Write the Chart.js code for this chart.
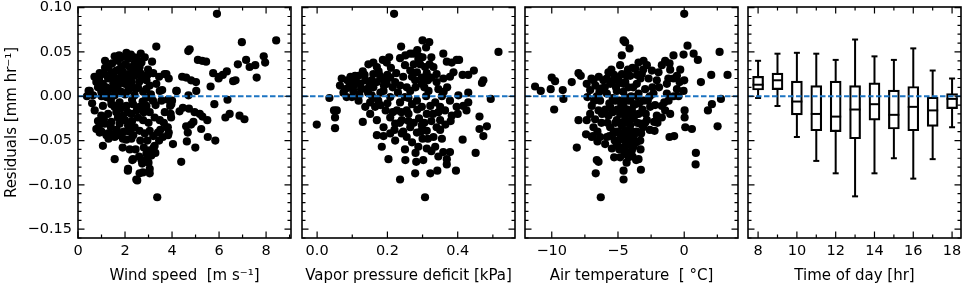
<!DOCTYPE html>
<html>
<head>
<meta charset="utf-8">
<script src="https://cdn.jsdelivr.net/npm/chart.js@4.4.0/dist/chart.umd.min.js"></script>
<style>
  body { margin: 0; background: #fff; }
  #wrap { position: relative; width: 964px; height: 286px; }
  canvas { position: absolute; left: 0; top: 0; }
</style>
</head>
<body>
<div id="wrap">
  <canvas id="c1" width="964" height="286"></canvas>
  <canvas id="c2" width="964" height="286"></canvas>
  <canvas id="c3" width="964" height="286"></canvas>
  <canvas id="c4" width="964" height="286"></canvas>
</div>
<script>
// residuals vs wind speed [m s-1]
const windPoints = [
  [5.91,0.093],[8.43,0.063],[6.97,0.061],[3.33,0.056],[4.75,0.053],[4.69,0.051],[5.10,0.041],[5.28,0.040],
  [5.45,0.039],[7.15,0.041],[7.30,0.033],[7.54,0.035],[7.90,0.045],[7.96,0.038],[6.80,0.036],[7.60,0.021],
  [6.33,0.028],[6.16,0.024],[6.60,0.017],[6.70,0.018],[5.75,0.026],[6.00,0.022],[5.98,0.020],[5.64,0.011],
  [5.02,0.016],[4.81,0.018],[4.60,0.021],[4.43,0.022],[5.03,0.006],[4.70,0.001],[4.20,0.006],[3.68,0.025],
  [3.86,0.020],[3.58,0.007],[6.36,-0.004],[6.27,-0.024],[6.45,-0.020],[6.87,-0.022],[7.08,-0.026],[5.84,-0.050],
  [5.80,-0.009],[5.50,-0.027],[5.29,-0.023],[5.18,-0.020],[4.96,-0.018],[4.72,-0.014],[4.46,-0.013],[4.32,-0.017],
  [4.91,-0.029],[4.81,-0.032],[4.60,-0.034],[5.24,-0.037],[4.67,-0.041],[5.52,-0.046],[4.99,-0.058],[4.63,-0.051],
  [4.39,-0.074],[4.04,-0.054],[4.00,-0.005],[3.82,-0.004],[3.92,-0.011],[3.94,-0.020],[3.96,-0.024],[3.82,-0.035],
  [3.86,-0.041],[3.61,-0.046],[3.37,-0.114],[3.29,-0.064],[3.12,-0.067],[2.90,-0.072],[2.73,-0.076],[2.62,-0.087],
  [2.48,-0.094],[2.76,-0.086],[3.05,-0.082],[3.22,-0.058],[3.05,-0.061],[2.12,-0.084],[2.31,-0.072],[1.56,-0.071],
  [1.06,-0.056],[1.70,-0.044],[1.49,-0.043],[1.28,-0.042],[0.92,-0.041],[0.78,-0.037],[0.88,-0.035],[1.91,-0.048],
  [2.05,-0.049],[1.56,0.045],[2.06,0.049],[2.67,0.048],[2.52,0.041],[2.84,0.044],[3.15,0.039],[1.70,0.040],
  [2.13,0.042],[2.41,0.037],[1.84,0.033],[2.20,0.033],[0.92,0.026],[1.13,0.025],[1.42,0.027],[1.63,0.029],
  [2.62,0.033],[2.98,0.030],[3.76,0.025],[3.33,0.014],[3.48,0.006],[0.78,0.016],[0.85,0.010],[1.06,0.014],
  [1.28,0.020],[1.56,0.021],[1.84,0.023],[2.13,0.025],[2.41,0.023],[2.70,0.021],[2.91,0.018],[3.05,0.012],
  [0.50,0.006],[0.64,0.001],[0.99,0.005],[1.35,0.008],[1.70,0.012],[1.99,0.014],[2.27,0.016],[2.55,0.010],
  [2.77,0.005],[1.21,-0.001],[1.56,0.001],[1.84,0.005],[2.13,0.006],[2.41,0.001],[3.19,-0.005],[3.55,-0.005],
  [3.97,-0.009],[4.18,0.006],[3.69,-0.018],[0.71,-0.016],[1.06,-0.011],[1.42,-0.009],[1.77,-0.007],[2.06,-0.011],
  [2.34,-0.009],[2.62,-0.012],[2.91,-0.011],[3.05,-0.018],[3.26,-0.024],[3.48,-0.027],[0.99,-0.022],[1.28,-0.020],
  [1.63,-0.018],[1.91,-0.022],[2.27,-0.020],[2.55,-0.024],[2.77,-0.027],[1.13,-0.031],[1.42,-0.029],[1.77,-0.031],
  [2.13,-0.033],[2.41,-0.035],[2.62,-0.039],[2.84,-0.042],[3.05,-0.039],[3.40,-0.041],[3.76,-0.035],[3.83,-0.044],
  [3.26,-0.056],[2.91,-0.065],[2.70,-0.072],[2.34,-0.071],[2.13,-0.082],[2.52,-0.095],[3.05,-0.087],[1.21,-0.044],
  [1.56,-0.046],[2.27,-0.048],[1.00,0.000],[1.40,-0.004],[1.70,0.018],[2.00,0.002],[2.30,-0.004],[2.60,0.016],
  [1.20,0.010],[1.50,0.014],[1.90,0.028],[2.20,0.020],[2.50,-0.016],[1.10,-0.026],[1.40,-0.035],[1.70,-0.024],
  [2.00,-0.027],[2.30,-0.028],[2.50,0.030],[1.30,0.033],[2.00,0.036],[2.90,-0.002],[3.10,0.002],[0.90,0.020],
  [1.80,-0.014],[2.20,-0.040],[2.80,-0.018],[1.60,0.008],[3.30,-0.010],[2.40,0.044],[1.75,0.046],[0.45,0.006],
  [0.38,0.000],[1.15,0.040],[1.45,0.037],[1.85,0.044],[2.25,0.047],[2.70,0.038],[2.95,0.024],[3.20,0.026],
  [3.45,0.022],[0.95,0.010],[1.25,0.003],[1.55,-0.012],[1.85,0.016],[2.15,0.012],[2.45,0.008],[2.75,-0.006],
  [3.00,-0.030],[1.00,-0.040],[1.30,-0.048],[1.65,-0.038],[1.95,-0.040],[2.35,-0.044],[2.65,-0.050],[2.95,-0.050],
  [3.20,-0.045],[3.50,-0.038],[3.65,-0.030],[1.15,0.032],[1.75,0.030],[2.35,0.030],[2.65,0.026],[2.00,0.020],
  [2.90,0.008],[0.70,0.022],[0.60,-0.008],[0.85,-0.028],[2.45,-0.060],[2.80,-0.058],[2.60,-0.068],[3.00,-0.075],
  [2.20,-0.060],[1.90,-0.058],[3.45,-0.050],[1.40,0.020],[2.30,0.010],[1.70,-0.010],[2.10,-0.018]
]

// residuals vs vapor pressure deficit [kPa]
const vpdPoints = [
  [0.219,0.093],[0.516,0.050],[0.239,0.056],[0.300,0.063],[0.319,0.061],[0.310,0.055],[0.359,0.048],[0.397,0.041],
  [0.404,0.041],[0.369,0.039],[0.383,0.038],[0.446,0.029],[0.414,0.024],[0.430,0.024],[0.473,0.018],[0.469,0.015],
  [0.430,0.004],[0.430,-0.007],[0.494,-0.003],[0.462,-0.023],[0.483,-0.034],[0.462,-0.037],[0.473,-0.045],[0.451,-0.064],
  [0.414,-0.049],[0.395,-0.084],[0.378,-0.063],[0.369,-0.071],[0.369,-0.077],[0.342,-0.084],[0.322,-0.087],[0.307,-0.114],
  [0.279,-0.087],[0.302,-0.072],[0.282,-0.074],[0.236,-0.094],[0.251,-0.072],[0.203,-0.071],[0.184,-0.057],[0.170,-0.044],
  [0.189,-0.045],[0.130,-0.029],[0.051,-0.036],[0.051,-0.024],[0.056,-0.016],[0.048,-0.016],[-0.001,-0.032],[0.035,-0.002],
  [0.070,0.020],[0.065,0.012],[0.080,0.008],[0.094,0.016],[0.103,0.006],[0.118,0.023],[0.123,0.014],[0.137,0.018],
  [0.146,0.036],[0.160,0.038],[0.170,0.033],[0.187,0.041],[0.198,0.038],[0.141,0.008],[0.155,0.001],[0.151,-0.007],
  [0.165,-0.012],[0.174,-0.005],[0.189,0.006],[0.198,0.014],[0.208,0.021],[0.222,0.016],[0.236,0.043],[0.251,0.046],
  [0.265,0.048],[0.274,0.048],[0.288,0.042],[0.293,0.036],[0.307,0.033],[0.284,0.027],[0.265,0.029],[0.279,0.018],
  [0.298,0.021],[0.312,0.026],[0.331,0.033],[0.326,0.021],[0.340,0.016],[0.359,0.020],[0.378,0.022],[0.388,0.027],
  [0.250,-0.001],[0.236,-0.007],[0.227,-0.016],[0.208,-0.024],[0.222,-0.031],[0.241,-0.027],[0.255,-0.016],[0.270,-0.009],
  [0.284,-0.005],[0.298,-0.012],[0.312,-0.020],[0.322,-0.011],[0.336,-0.007],[0.350,-0.012],[0.364,-0.016],[0.383,-0.022],
  [0.397,-0.012],[0.416,-0.011],[0.425,-0.016],[0.350,-0.027],[0.340,-0.035],[0.331,-0.046],[0.312,-0.039],[0.298,-0.033],
  [0.284,-0.041],[0.265,-0.035],[0.255,-0.046],[0.241,-0.042],[0.222,-0.050],[0.208,-0.042],[0.189,-0.035],[0.170,-0.027],
  [0.151,-0.020],[0.137,-0.012],[0.118,-0.005],[0.099,-0.001],[0.084,-0.001],[0.108,0.023],[0.086,0.018],[0.288,-0.057],
  [0.312,-0.059],[0.336,-0.057],[0.359,-0.063],[0.298,0.014],[0.265,0.006],[0.317,0.006],[0.236,0.012],[0.179,0.023],
  [0.155,0.018],[0.208,-0.001],[0.378,-0.005],[0.402,0.001],[0.090,0.010],[0.120,0.002],[0.150,0.012],[0.180,0.004],
  [0.200,-0.008],[0.230,0.004],[0.260,-0.002],[0.280,0.010],[0.310,0.000],[0.330,-0.020],[0.290,-0.025],[0.260,-0.028],
  [0.240,-0.018],[0.220,-0.038],[0.300,-0.048],[0.270,-0.052],[0.350,-0.038],[0.320,0.036],[0.290,0.045],[0.340,0.025],
  [0.130,0.028],[0.110,0.018],[0.160,0.025],[0.190,0.018],[0.210,0.032],[0.250,0.035],[0.270,0.022],[0.360,0.005],
  [0.380,-0.028],[0.400,-0.020],[0.075,0.004],[0.095,0.022],[0.105,0.012],[0.125,0.008],[0.135,0.024],[0.145,0.004],
  [0.160,0.010],[0.170,0.016],[0.175,0.028],[0.190,0.012],[0.200,0.024],[0.215,0.010],[0.225,0.026],[0.245,0.022],
  [0.255,0.010],[0.275,0.036],[0.285,0.052],[0.300,0.044],[0.305,0.010],[0.315,0.018],[0.325,0.044],[0.345,0.008],
  [0.355,0.000],[0.370,0.010],[0.215,-0.018],[0.235,-0.030],[0.245,-0.040],[0.260,-0.020],[0.275,-0.030],[0.285,-0.015],
  [0.295,-0.040],[0.305,-0.030],[0.315,-0.048],[0.325,-0.028],[0.345,-0.018],[0.355,-0.048],[0.365,-0.032],[0.325,-0.062],
  [0.345,-0.068],[0.280,-0.064],[0.250,-0.060],[0.195,-0.016],[0.180,-0.010],[0.160,-0.002],[0.205,0.044]
]

// residuals vs air temperature [deg C]
const tempPoints = [
  [0.00,0.093],[-4.58,0.063],[-4.46,0.061],[-4.13,0.054],[0.25,0.057],[-0.05,0.047],[0.71,0.048],[1.03,0.041],
  [2.67,0.050],[3.27,0.024],[2.04,0.024],[1.26,0.016],[2.77,-0.003],[2.09,-0.009],[1.79,-0.016],[2.52,-0.034],
  [0.58,-0.037],[0.88,-0.064],[0.86,-0.077],[-0.76,-0.045],[-1.11,-0.046],[-2.24,-0.039],[-2.27,-0.029],[-2.07,-0.022],
  [-1.69,-0.011],[-1.51,-0.007],[-1.31,0.014],[-0.55,0.023],[-0.35,0.016],[0.00,0.018],[-0.05,0.006],[0.03,-0.016],
  [0.03,-0.024],[0.08,-0.035],[-1.11,0.037],[-0.81,0.046],[-1.44,0.040],[-11.26,0.011],[-10.83,0.006],[-10.00,0.021],
  [-9.75,0.017],[-10.08,0.008],[-9.82,-0.015],[-9.12,-0.003],[-9.17,0.007],[-8.49,0.016],[-7.98,0.026],[-7.81,0.023],
  [-8.11,-0.058],[-7.98,-0.027],[-7.41,-0.043],[-6.98,-0.046],[-6.55,-0.051],[-6.47,-0.074],[-6.60,-0.072],[-6.68,-0.087],
  [-6.30,-0.114],[-4.58,-0.084],[-4.58,-0.094],[-4.84,-0.069],[-4.21,-0.069],[-3.63,-0.072],[-3.45,-0.071],[-3.27,-0.083],
  [-3.95,-0.061],[-5.29,-0.069],[-7.36,0.014],[-7.10,0.007],[-6.85,0.018],[-7.31,-0.001],[-6.98,-0.011],[-7.10,-0.020],
  [-6.73,-0.026],[-6.47,-0.016],[-6.35,-0.005],[-6.22,0.009],[-6.10,0.018],[-5.72,0.027],[-5.59,0.014],[-5.84,0.003],
  [-5.59,-0.012],[-5.72,-0.022],[-5.59,-0.035],[-5.34,-0.042],[-5.09,-0.027],[-5.21,-0.005],[-5.09,0.006],[-4.96,0.021],
  [-4.84,0.035],[-4.71,0.046],[-4.58,0.014],[-4.46,-0.001],[-4.58,-0.012],[-4.84,-0.020],[-4.46,-0.026],[-4.71,-0.033],
  [-4.33,-0.039],[-4.58,-0.046],[-4.96,-0.050],[-4.21,-0.054],[-3.83,-0.057],[-4.08,-0.033],[-3.95,-0.016],[-4.08,-0.005],
  [-4.21,0.010],[-4.08,0.023],[-3.70,0.031],[-3.45,0.038],[-3.07,0.040],[-2.82,0.035],[-3.20,0.025],[-3.58,0.014],
  [-3.45,0.003],[-3.70,-0.009],[-3.45,-0.020],[-3.32,-0.031],[-3.70,-0.042],[-3.32,-0.050],[-3.07,-0.005],[-2.95,0.008],
  [-2.69,0.020],[-2.44,0.029],[-2.07,0.018],[-2.32,0.003],[-2.57,-0.012],[-2.82,-0.027],[-5.34,0.018],[-4.33,0.023],
  [-7.36,-0.027],[-6.85,-0.035],[-6.35,-0.046],[-5.84,-0.046],[-5.97,-0.054],[-5.46,-0.059],[-4.46,-0.061],[-1.69,0.035],
  [-1.94,0.027],[-1.06,0.030],[-0.81,0.020],[-0.55,0.008],[-1.18,-0.005],[-1.69,-0.024],[-1.44,-0.016],[-1.06,-0.020],
  [-2.02,-0.030],[-0.43,0.000],[-1.31,0.003],[-4.90,-0.005],[-4.70,-0.030],[-4.50,-0.040],[-4.30,-0.015],[-4.10,-0.045],
  [-3.90,-0.025],[-4.80,-0.045],[-4.60,0.005],[-4.20,-0.030],[-4.00,0.000],[-5.20,-0.030],[-5.00,-0.040],[-4.40,-0.052],
  [-3.80,-0.010],[-3.60,-0.040],[-3.40,-0.008],[-5.40,-0.018],[-5.80,-0.030],[-6.20,-0.020],[-6.00,0.010],[-6.60,0.000],
  [-7.00,0.020],[-5.50,0.030],[-4.90,0.015],[-3.90,0.032],[-3.30,0.020],[-2.90,-0.020],[-2.60,-0.038],[-2.40,0.010],
  [-4.70,-0.058],[-4.20,-0.064],[-5.10,-0.055],[-3.60,-0.052],[-3.10,-0.035],[-4.75,-0.010],[-4.55,-0.020],[-4.35,-0.005],
  [-4.15,-0.020],[-3.95,-0.040],[-4.45,-0.030],[-4.65,-0.048],[-4.85,-0.030],[-5.05,-0.015],[-5.25,-0.040],[-4.25,-0.042],
  [-4.05,-0.052],[-3.85,-0.046],[-4.50,-0.065],[-4.90,-0.060],[-3.75,-0.022],[-3.55,-0.030],[-3.25,-0.042],[-3.15,-0.015],
  [-2.95,-0.030],[-2.75,-0.005],[-3.55,0.000],[-3.85,0.010],[-4.45,0.016],[-4.70,0.025],[-5.15,0.010],[-5.40,-0.002],
  [-5.65,-0.008],[-5.95,-0.015],[-6.25,-0.030],[-6.55,-0.040],[-6.80,-0.005],[-6.40,0.005],[-6.70,0.012],[-5.85,0.020],
  [-6.45,0.022],[-5.30,0.024],[-4.25,0.030],[-3.55,0.024],[-3.10,0.030],[-2.60,0.000],[-2.20,-0.010],[-1.90,0.010],
  [-1.20,0.020],[-0.80,0.000],[-0.30,0.030],[-5.65,-0.045],[-5.25,-0.050],[-3.30,-0.060],[-3.90,-0.068],[-4.35,-0.075],
  [-6.90,-0.045]
]

// residual distribution by hour of day
const hours = [8, 9, 10, 11, 12, 13, 14, 15, 16, 17, 18]
const whiskerHigh = [0.040, 0.048, 0.049, 0.048, 0.041, 0.064, 0.045, 0.041, 0.054, 0.029, 0.020]
const quartile3 = [0.0225, 0.026, 0.017, 0.012, 0.017, 0.012, 0.015, 0.007, 0.011, -0.001, 0.003]
const medians = [0.013, 0.018, -0.006, -0.020, -0.023, -0.015, -0.009, -0.021, -0.012, -0.016, -0.003]
const quartile1 = [0.007, 0.0075, -0.021, -0.039, -0.040, -0.048, -0.027, -0.037, -0.039, -0.034, -0.014]
const whiskerLow = [-0.002, -0.011, -0.046, -0.073, -0.087, -0.113, -0.087, -0.070, -0.093, -0.071, -0.035]

const FONT = "'DejaVu Sans', sans-serif"
const DASH_COLOR = "#1c74c2"
const Y_MIN = -0.16
const Y_MAX = 0.1007

Chart.defaults.font.family = FONT
Chart.defaults.color = "#000"

// inward ticks on all four sides + black frame, like matplotlib
const frameTicks = {
  id: "frameTicks",
  afterDraw(chart, args, opts) {
    const { ctx, chartArea: a, scales } = chart
    ctx.save()
    ctx.strokeStyle = "#000"
    ctx.lineWidth = 1.2
    ctx.beginPath()
    const xTicks = (step, len) => {
      const s = scales.x
      for (let k = Math.ceil(s.min / step - 1e-6); k * step <= s.max + 1e-9; k++) {
        const x = s.getPixelForValue(k * step)
        ctx.moveTo(x, a.bottom); ctx.lineTo(x, a.bottom - len)
        ctx.moveTo(x, a.top); ctx.lineTo(x, a.top + len)
      }
    }
    const yTicks = (step, len) => {
      const s = scales.y
      for (let k = Math.ceil(s.min / step - 1e-6); k * step <= s.max + 1e-9; k++) {
        const y = s.getPixelForValue(k * step)
        ctx.moveTo(a.left, y); ctx.lineTo(a.left + len, y)
        ctx.moveTo(a.right, y); ctx.lineTo(a.right - len, y)
      }
    }
    xTicks(opts.xMinor, 3.5)
    xTicks(opts.xMajor, 6.5)
    yTicks(0.01, 3.5)
    yTicks(0.05, 6.5)
    ctx.stroke()
    ctx.lineWidth = 1.6
    ctx.strokeRect(a.left, a.top, a.width, a.height)
    ctx.restore()
  }
}

const fmtY = (v) => (Math.round(v * 100) / 100).toFixed(2).replace("-", "\u2212")

function makePanel(id, cfg) {
  const showY = cfg.showY
  return new Chart(document.getElementById(id), {
    type: cfg.type || "scatter",
    data: { datasets: cfg.datasets },
    options: {
      responsive: false,
      animation: false,
      events: [],
      layout: {
        autoPadding: false,
        padding: { left: showY ? 0 : cfg.left, right: 964 - cfg.right, top: 7, bottom: 0 }
      },
      plugins: {
        legend: { display: false },
        tooltip: { enabled: false },
        frameTicks: { xMajor: cfg.xStep, xMinor: cfg.xMinor }
      },
      scales: {
        x: {
          type: "linear",
          offset: false,
          min: cfg.xMin,
          max: cfg.xMax,
          grid: { display: false, drawTicks: false },
          border: { display: false },
          ticks: {
            stepSize: cfg.xStep,
            includeBounds: false,
            padding: 5,
            maxRotation: 0,
            font: { size: 14.5 },
            callback: cfg.xFmt
          },
          title: { display: true, text: cfg.xTitle, font: { size: 15 }, padding: { top: 0, bottom: 1 } },
          afterFit: (s) => {
            s.height = 48
            s.paddingLeft = 0
            s.paddingRight = 0
          }
        },
        y: {
          display: showY,
          min: Y_MIN,
          max: Y_MAX,
          grid: { display: false, drawTicks: false },
          border: { display: false },
          ticks: {
            stepSize: 0.05,
            includeBounds: false,
            padding: 6,
            font: { size: 14.5 },
            callback: fmtY
          },
          title: { display: true, text: "Residuals [mm hr\u207B\u00B9]", font: { size: 15 }, padding: { top: 3, bottom: 0 } },
          afterFit: (s) => {
            s.width = showY ? 78 : 0
            s.paddingTop = 0
            s.paddingBottom = 0
          }
        }
      }
    },
    plugins: [frameTicks]
  })
}

const pointStyle = (pts) => ({
  type: "scatter",
  data: pts.map(([x, y]) => ({ x, y })),
  backgroundColor: "#000",
  borderWidth: 0,
  pointRadius: 4.1,
  order: 2
})

const zeroLine = (xMin, xMax) => ({
  type: "line",
  data: [{ x: xMin, y: 0 }, { x: xMax, y: 0 }],
  borderColor: DASH_COLOR,
  borderWidth: 2,
  borderDash: [5.5, 2.5],
  pointRadius: 0,
  order: -1
})

makePanel("c1", {
  showY: true, right: 291, xMin: 0, xMax: 9.06, xStep: 2, xMinor: 1,
  xFmt: (v) => String(v),
  xTitle: "Wind speed  [m s\u207B\u00B9]",
  datasets: [pointStyle(windPoints), zeroLine(0, 9.06)]
})

makePanel("c2", {
  showY: false, left: 302, right: 515, xMin: -0.043, xMax: 0.563, xStep: 0.2, xMinor: 0.1,
  xFmt: (v) => v.toFixed(1),
  xTitle: "Vapor pressure deficit [kPa]",
  datasets: [pointStyle(vpdPoints), zeroLine(-0.043, 0.563)]
})

makePanel("c3", {
  showY: false, left: 525, right: 738, xMin: -12.02, xMax: 4.06, xStep: 5, xMinor: 2.5,
  xFmt: (v) => String(v).replace("-", "\u2212"),
  xTitle: "Air temperature  [ \u00B0C]",
  datasets: [pointStyle(tempPoints), zeroLine(-12.02, 4.06)]
})

// whiskers as broken line segments from low to high
const whiskerData = []
hours.forEach((h, i) => {
  whiskerData.push({ x: h, y: whiskerLow[i] }, { x: h, y: whiskerHigh[i] }, { x: h, y: null })
})

makePanel("c4", {
  type: "bar",
  showY: false, left: 748, right: 961, xMin: 7.48, xMax: 18.46, xStep: 2, xMinor: 1,
  xFmt: (v) => String(v),
  xTitle: "Time of day [hr]",
  datasets: [
    {
      type: "line",
      data: whiskerData,
      borderColor: "#000",
      borderWidth: 2,
      pointRadius: 0,
      spanGaps: false,
      order: 3
    },
    {
      type: "bar",
      data: hours.map((h, i) => ({ x: h, y: [quartile1[i], quartile3[i]] })),
      backgroundColor: "#fff",
      borderColor: "#000",
      borderWidth: 2.2,
      borderSkipped: false,
      barThickness: 11,
      order: 2
    },
    {
      type: "scatter",
      data: hours.flatMap((h, i) => [{ x: h, y: whiskerLow[i] }, { x: h, y: whiskerHigh[i] }]),
      pointStyle: "line",
      pointRadius: 3,
      borderColor: "#000",
      pointBorderColor: "#000",
      pointBorderWidth: 2,
      order: 1
    },
    {
      type: "scatter",
      data: hours.map((h, i) => ({ x: h, y: medians[i] })),
      pointStyle: "line",
      pointRadius: 5.5,
      borderColor: "#000",
      pointBorderColor: "#000",
      pointBorderWidth: 2,
      order: 1
    },
    zeroLine(7.48, 18.46)
  ]
})
</script>
</body>
</html>
